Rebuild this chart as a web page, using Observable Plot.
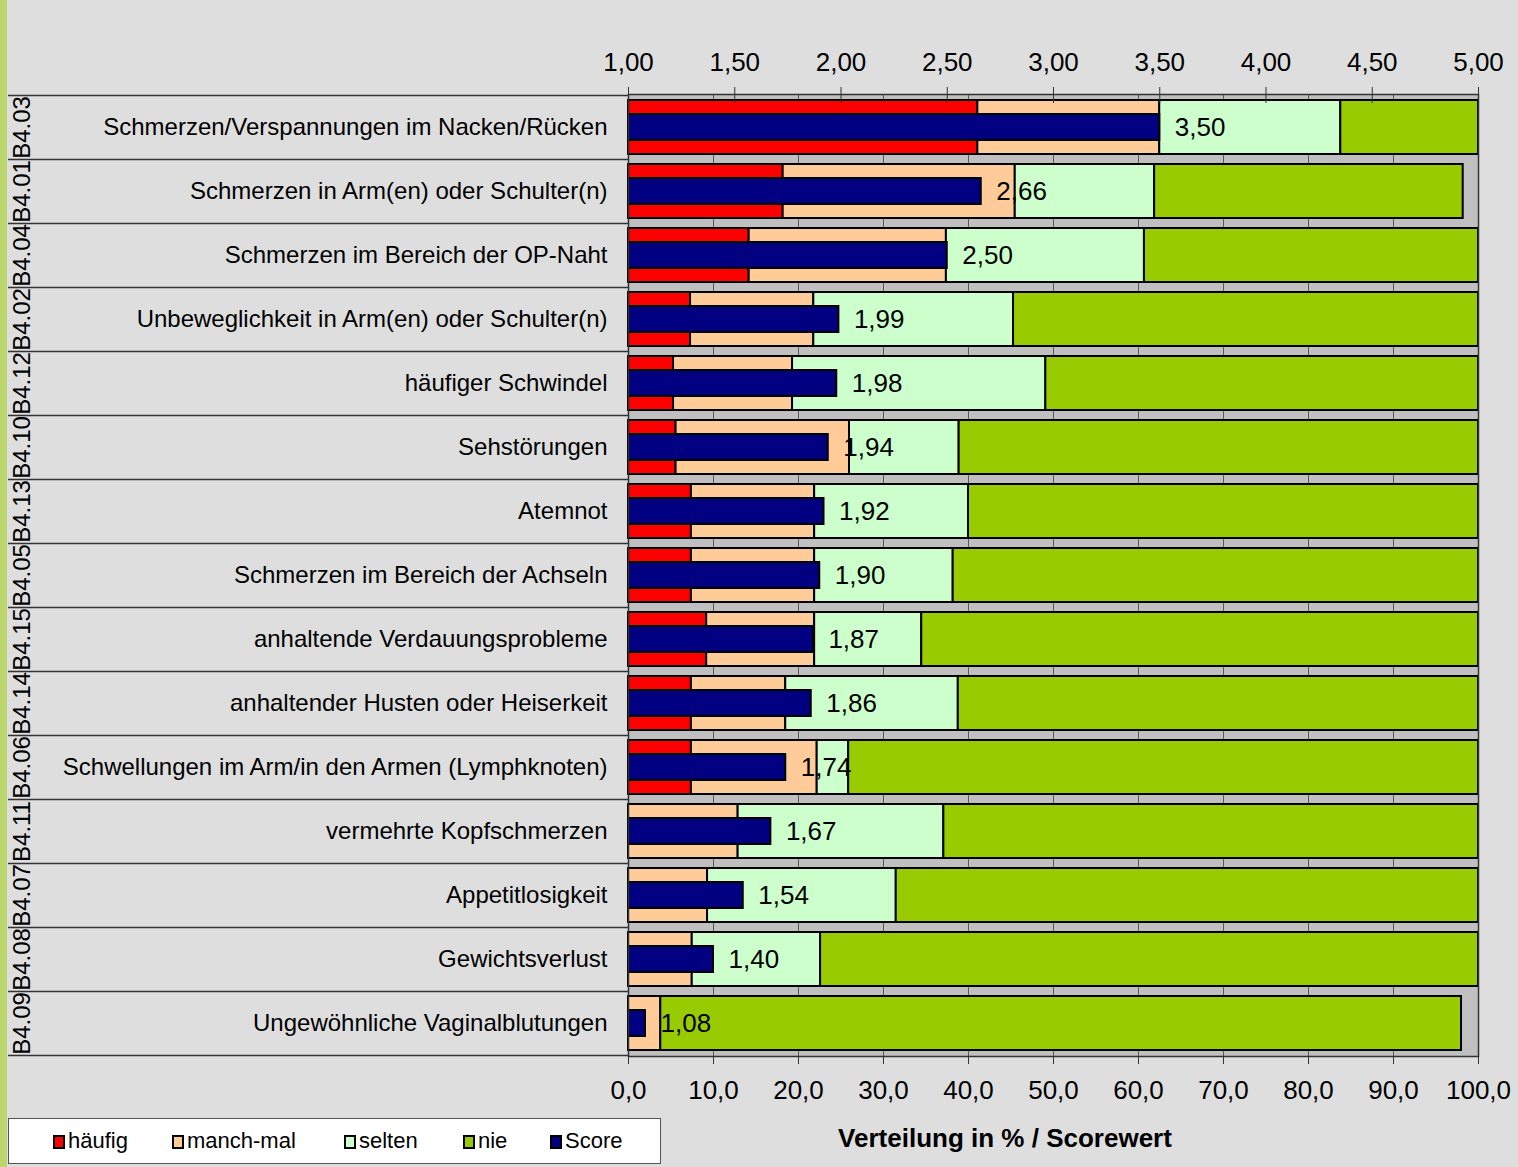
<!DOCTYPE html>
<html>
<head>
<meta charset="utf-8">
<script src="https://cdn.jsdelivr.net/npm/d3@7"></script>
<script src="https://cdn.jsdelivr.net/npm/@observablehq/plot@0.6"></script>
<style>
  html, body { margin: 0; padding: 0; }
  body {
    width: 1518px; height: 1167px; overflow: hidden;
    background: linear-gradient(to right, #bcd66e 0 7px, #dedede 7px);
    font-family: "Liberation Sans", Arial, sans-serif;
    position: relative;
  }
  #chart { position: absolute; left: 0; top: 0; }
  #legend {
    position: absolute; left: 8px; top: 1118px; width: 651px; height: 44px;
    background: #fff; border: 1px solid #555; box-sizing: content-box;
  }
  .item { position: absolute; top: 0; height: 44px; line-height: 44px; font-size: 22px; color: #000; }
  .sw { position: absolute; top: 16px; width: 8px; height: 10px; border: 2px solid #000; }
  #title {
    position: absolute; top: 1123px; left: 1005px; transform: translateX(-50%);
    font-size: 26px; font-weight: bold; color: #000; white-space: nowrap;
  }
</style>
</head>
<body>
<div id="chart"></div>
<div id="legend"></div>
<div id="title">Verteilung in % / Scorewert</div>
<script>
const codes = ["B4.03","B4.01","B4.04","B4.02","B4.12","B4.10","B4.13","B4.05","B4.15","B4.14","B4.06","B4.11","B4.07","B4.08","B4.09"];
const labels = [
  "Schmerzen/Verspannungen im Nacken/Rücken",
  "Schmerzen in Arm(en) oder Schulter(n)",
  "Schmerzen im Bereich der OP-Naht",
  "Unbeweglichkeit in Arm(en) oder Schulter(n)",
  "häufiger Schwindel",
  "Sehstörungen",
  "Atemnot",
  "Schmerzen im Bereich der Achseln",
  "anhaltende Verdauungsprobleme",
  "anhaltender Husten oder Heiserkeit",
  "Schwellungen im Arm/in den Armen (Lymphknoten)",
  "vermehrte Kopfschmerzen",
  "Appetitlosigkeit",
  "Gewichtsverlust",
  "Ungewöhnliche Vaginalblutungen"
];
const haeufig  = [41.1, 18.2, 14.2,  7.3,  5.3,  5.6,  7.4,  7.4,  9.2,  7.4,  7.4,  0.0,  0.0,  0.0,  0.0];
const manchmal = [21.4, 27.3, 23.2, 14.5, 14.0, 20.4, 14.5, 14.5, 12.7, 11.1, 14.8, 12.9,  9.3,  7.5,  3.8];
const selten   = [21.3, 16.4, 23.3, 23.5, 29.8, 12.9, 18.1, 16.3, 12.6, 20.3,  3.7, 24.2, 22.2, 15.1,  0.0];
const nie      = [16.2, 36.3, 39.3, 54.7, 50.9, 61.1, 60.0, 61.8, 65.5, 61.2, 74.1, 62.9, 68.5, 77.4, 94.2];
const scores   = [3.50, 2.66, 2.50, 1.99, 1.98, 1.94, 1.92, 1.90, 1.87, 1.86, 1.74, 1.67, 1.54, 1.40, 1.08];

const categories = ["häufig", "manch-mal", "selten", "nie"];
const catColors = ["#ff0000", "#ffcc99", "#ccffcc", "#99cc00"];
const scoreColor = "#000080";
const scoreTicks = [1.00, 1.50, 2.00, 2.50, 3.00, 3.50, 4.00, 4.50, 5.00];
const pctTicks = [0, 10, 20, 30, 40, 50, 60, 70, 80, 90, 100];

// score axis (1..5) is drawn on the same percent axis (0..100)
const scoreMin = 1, scoreMax = 5;
const toPct = s => (s - scoreMin) / (scoreMax - scoreMin) * 100;
const fromPct = p => scoreMin + p / 100 * (scoreMax - scoreMin);
const fmt = (v, n) => v.toFixed(n).replace(".", ",");

const series = [haeufig, manchmal, selten, nie];
const stacked = [];
codes.forEach((c, i) => series.forEach((arr, k) => {
  if (arr[i] > 0) stacked.push({code: c, cat: categories[k], value: arr[i]});
}));
const scoreData = codes.map((c, i) => ({code: c, score: scores[i]}));
const labelOf = new Map(codes.map((c, i) => [c, labels[i]]));

const W = 1518, H = 1112, mT = 94, mB = 56, mL = 628, mR = 40;
const bw = (H - mT - mB) / codes.length;

const plot = Plot.plot({
  width: W, height: H,
  marginTop: mT, marginBottom: mB, marginLeft: mL, marginRight: mR,
  style: {fontFamily: "'Liberation Sans', Arial, sans-serif", fontSize: "24px", color: "#000", background: "transparent", overflow: "visible"},
  x: {domain: [0, 100]},
  y: {domain: codes, type: "band", padding: 0},
  color: {domain: categories, range: catColors},
  marks: [
    Plot.frame({fill: "#c0c0c0"}),
    Plot.gridX({ticks: pctTicks, stroke: "#5a5a5a", strokeOpacity: 1, strokeWidth: 1}),
    Plot.barX(stacked, Plot.stackX({
      x: "value", y: "code", fill: "cat", order: categories,
      stroke: "#000", strokeWidth: 2, insetTop: 5, insetBottom: 5
    })),
    Plot.barX(scoreData, {
      x1: () => toPct(scoreMin), x2: d => toPct(d.score), y: "code",
      fill: scoreColor, stroke: "#000", strokeWidth: 2, insetTop: 19, insetBottom: 19
    }),
    Plot.text(scoreData, {
      x: d => toPct(d.score), y: "code", text: d => fmt(d.score, 2),
      textAnchor: "start", dx: 15, fontSize: 26, fill: "#000"
    }),
    Plot.frame({stroke: "#333", strokeWidth: 1.5}),
    // row separators in the label area
    Plot.axisY({ticks: codes, tickSize: mL - 8, tickFormat: () => "", dy: -bw / 2, stroke: "#333", strokeWidth: 1.5, label: null}),
    Plot.axisY({ticks: codes.slice(-1), tickSize: mL - 8, tickFormat: () => "", dy: bw / 2, stroke: "#333", strokeWidth: 1.5, label: null}),
    // category labels
    Plot.axisY({tickSize: 0, tickPadding: 21, tickFormat: c => labelOf.get(c), fontSize: 24, label: null}),
    // codes, rotated
    Plot.text(codes, {y: d => d, text: d => d, frameAnchor: "left", textAnchor: "middle", dx: -606, rotate: -90, fontSize: 24, fill: "#000"}),
    // top score axis
    Plot.axisX({anchor: "top", ticks: scoreTicks.map(toPct), tickFormat: d => fmt(fromPct(d), 2), tickSize: 8, tickPadding: 16, fontSize: 26, label: null, stroke: "#333"}),
    Plot.axisX({anchor: "top", ticks: scoreTicks.map(toPct), tickFormat: () => "", tickSize: 8, dy: 8, label: null, stroke: "#333"}),
    // bottom percent axis
    Plot.axisX({anchor: "bottom", ticks: pctTicks, tickFormat: d => fmt(d, 1), tickSize: 8, tickPadding: 16, fontSize: 26, label: null, stroke: "#333"})
  ]
});
document.getElementById("chart").appendChild(plot);

// legend
const legendItems = [...categories.map((c, k) => ({name: c, color: catColors[k]})), {name: "Score", color: scoreColor}];
const legendX = [44, 163, 335, 454, 541];
const legend = document.getElementById("legend");
legendItems.forEach((it, i) => {
  const sw = document.createElement("div");
  sw.className = "sw";
  sw.style.left = legendX[i] + "px";
  sw.style.background = it.color;
  legend.appendChild(sw);
  const t = document.createElement("div");
  t.className = "item";
  t.style.left = (legendX[i] + 15) + "px";
  t.textContent = it.name;
  legend.appendChild(t);
});
</script>
</body>
</html>
